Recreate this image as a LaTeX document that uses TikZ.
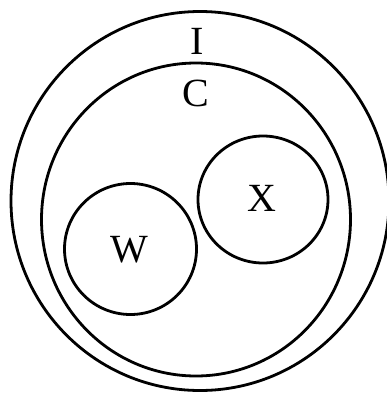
\documentclass[tikz,border=0pt]{standalone}
\usepackage{fontspec}
\setmainfont{Liberation Serif}
\begin{document}
\begin{tikzpicture}[x=1pt,y=-1pt,
  ring/.style={draw=black,line width=2.8pt},
  lbl/.style={font=\fontsize{40}{48}\selectfont,inner sep=0pt}]
\useasboundingbox (0,0) rectangle (387,394);
\clip (0,0) rectangle (387,394);
\draw[ring] (200,201) ellipse [x radius=189, y radius=189.5];
\draw[ring] (196,219.5) ellipse [x radius=154.5, y radius=156.5];
\draw[ring] (263,199.5) ellipse [x radius=65, y radius=63.5];
\draw[ring] (130.5,249) ellipse [x radius=66, y radius=65.5];
\node[lbl] (I) at (197,41) {I};
\node[lbl] (C) at (196,93) {C};
\node[lbl] (X) at (262,198) {X};
\node[lbl] (W) at (129,250) {W};
\end{tikzpicture}
\end{document}
